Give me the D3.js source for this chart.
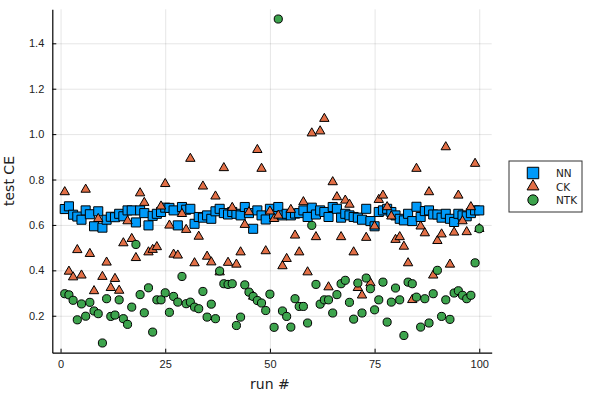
<!DOCTYPE html>
<html>
<head>
<meta charset="utf-8">
<script src="https://cdn.jsdelivr.net/npm/d3@7"></script>
<style>
  body { margin: 0; background: #fff; }
  svg { font-family: "DejaVu Sans", sans-serif; }
</style>
</head>
<body>
<div id="chart"></div>
<script>
// datos (run 1..100)
const runs = d3.range(1, 101);
const nnValues = [
  0.670, 0.682, 0.645, 0.637, 0.623, 0.664, 0.647, 0.594, 0.660, 0.588,
  0.623, 0.636, 0.634, 0.649, 0.638, 0.664, 0.664, 0.611, 0.664, 0.652,
  0.598, 0.640, 0.649, 0.657, 0.676, 0.675, 0.664, 0.598, 0.679, 0.667,
  0.671, 0.605, 0.635, 0.632, 0.642, 0.627, 0.660, 0.671, 0.652, 0.646,
  0.657, 0.649, 0.642, 0.679, 0.652, 0.583, 0.664, 0.642, 0.624, 0.671,
  0.646, 0.679, 0.642, 0.649, 0.642, 0.650, 0.652, 0.664, 0.635, 0.676,
  0.646, 0.664, 0.657, 0.635, 0.679, 0.671, 0.632, 0.649, 0.642, 0.635,
  0.632, 0.623, 0.671, 0.617, 0.594, 0.657, 0.664, 0.671, 0.657, 0.642,
  0.627, 0.620, 0.649, 0.617, 0.680, 0.635, 0.661, 0.664, 0.646, 0.646,
  0.632, 0.649, 0.627, 0.613, 0.649, 0.642, 0.638, 0.652, 0.664, 0.664
];
const ckValues = [
  0.745, 0.395, 0.370, 0.490, 0.378, 0.756, 0.473, 0.309, 0.627, 0.372,
  0.435, 0.323, 0.363, 0.311, 0.520, 0.617, 0.539, 0.455, 0.740, 0.698,
  0.480, 0.491, 0.503, 0.682, 0.781, 0.598, 0.470, 0.466, 0.649, 0.579,
  0.892, 0.432, 0.549, 0.770, 0.461, 0.436, 0.726, 0.392, 0.851, 0.434,
  0.676, 0.426, 0.480, 0.601, 0.657, 0.285, 0.931, 0.848, 0.485, 0.660,
  0.627, 0.642, 0.419, 0.451, 0.667, 0.554, 0.480, 0.701, 0.392, 1.004,
  0.547, 1.013, 1.068, 0.326, 0.789, 0.723, 0.547, 0.708, 0.690, 0.480,
  0.323, 0.290, 0.544, 0.344, 0.594, 0.711, 0.730, 0.679, 0.638, 0.535,
  0.547, 0.505, 0.432, 0.270, 0.848, 0.594, 0.564, 0.745, 0.378, 0.530,
  0.559, 0.943, 0.426, 0.567, 0.730, 0.617, 0.569, 0.679, 0.870, 0.583
];
const ntkValues = [
  0.297, 0.292, 0.268, 0.182, 0.252, 0.198, 0.259, 0.221, 0.209, 0.080,
  0.275, 0.197, 0.203, 0.270, 0.187, 0.162, 0.238, 0.514, 0.293, 0.213,
  0.323, 0.128, 0.270, 0.270, 0.301, 0.215, 0.285, 0.260, 0.373, 0.253,
  0.260, 0.238, 0.231, 0.307, 0.194, 0.251, 0.187, 0.397, 0.341, 0.338,
  0.341, 0.157, 0.194, 0.336, 0.304, 0.285, 0.267, 0.256, 0.223, 0.295,
  0.149, 1.507, 0.221, 0.197, 0.150, 0.275, 0.241, 0.241, 0.168, 0.598,
  0.338, 0.251, 0.270, 0.270, 0.212, 0.293, 0.341, 0.356, 0.259, 0.185,
  0.344, 0.212, 0.366, 0.319, 0.226, 0.270, 0.348, 0.172, 0.260, 0.322,
  0.270, 0.113, 0.348, 0.341, 0.282, 0.150, 0.275, 0.168, 0.297, 0.400,
  0.197, 0.270, 0.184, 0.300, 0.310, 0.290, 0.275, 0.290, 0.433, 0.583
];
const seriesNames = ["NN", "CK", "NTK"];
const xTicks = [0, 25, 50, 75, 100];
const yTicks = [0.2, 0.4, 0.6, 0.8, 1.0, 1.2, 1.4];

const series = [
  { name: seriesNames[0], values: nnValues, symbol: d3.symbolSquare, size: 82, color: "#009af9" },
  { name: seriesNames[1], values: ckValues, symbol: d3.symbolTriangle, size: 38, color: "#e26f46" },
  { name: seriesNames[2], values: ntkValues, symbol: d3.symbolCircle, size: 52, color: "#3da44d" }
];

// dimensiones
const totalWidth = 593, totalHeight = 393;
const margin = { top: 9.3, right: 101.3, bottom: 40.3, left: 52.3 };
const width = totalWidth - margin.left - margin.right;
const height = totalHeight - margin.top - margin.bottom;

const svg = d3.select("#chart").append("svg")
  .attr("width", totalWidth)
  .attr("height", totalHeight);

const g = svg.append("g")
  .attr("transform", `translate(${margin.left},${margin.top})`);

// escalas (margen de 3% como en Plots.jl)
const allY = nnValues.concat(ckValues, ntkValues);
const yMin = d3.min(allY), yMax = d3.max(allY);
const yPad = (yMax - yMin) * 0.03;
const x = d3.scaleLinear().domain([1 - 99 * 0.03, 100 + 99 * 0.03]).range([0, width]);
const y = d3.scaleLinear().domain([yMin - yPad, yMax + yPad]).range([height, 0]);

// rejilla
g.append("g")
  .attr("class", "grid")
  .attr("transform", `translate(0,${height})`)
  .call(d3.axisBottom(x).tickValues(xTicks).tickSize(-height).tickFormat(""))
  .call(s => s.select(".domain").remove());
g.append("g")
  .attr("class", "grid")
  .call(d3.axisLeft(y).tickValues(yTicks).tickSize(-width).tickFormat(""))
  .call(s => s.select(".domain").remove());
g.selectAll(".grid line").attr("stroke", "#000").attr("stroke-opacity", 0.1).attr("stroke-width", 1);

// ejes
const xAxis = g.append("g")
  .attr("transform", `translate(0,${height})`)
  .call(d3.axisBottom(x).tickValues(xTicks).tickSize(-4).tickSizeOuter(0).tickPadding(8).tickFormat(d3.format("d")));
const yAxis = g.append("g")
  .call(d3.axisLeft(y).tickValues(yTicks).tickSize(-4).tickSizeOuter(0).tickPadding(8).tickFormat(d3.format(".1f")));

[xAxis, yAxis].forEach(a => {
  a.select(".domain").attr("stroke", "#000").attr("stroke-width", 1.2);
  a.selectAll(".tick line").attr("stroke", "#000");
  a.selectAll(".tick text").attr("fill", "#222").style("font-size", "11px");
});

// puntos
series.forEach(s => {
  g.append("g").selectAll("path")
    .data(s.values.map((v, i) => ({ run: runs[i], v })))
    .enter()
    .append("path")
    .attr("d", d3.symbol().type(s.symbol).size(s.size))
    .attr("transform", d => `translate(${x(d.run)},${y(d.v)})`)
    .attr("fill", s.color)
    .attr("stroke", "#000")
    .attr("stroke-width", 1);
});

// titulos de ejes
svg.append("text")
  .attr("x", margin.left + x(50))
  .attr("y", 389)
  .attr("text-anchor", "middle")
  .style("font-size", "14px")
  .attr("fill", "#222")
  .text("run #");

svg.append("text")
  .attr("transform", `translate(14,${margin.top + height / 2}) rotate(-90)`)
  .attr("text-anchor", "middle")
  .style("font-size", "14px")
  .attr("fill", "#222")
  .text("test CE");

// leyenda
const legend = svg.append("g").attr("transform", "translate(509,161)");
legend.append("rect")
  .attr("width", 73).attr("height", 51)
  .attr("fill", "#fff")
  .attr("stroke", "#333")
  .attr("stroke-width", 1);

series.forEach((s, i) => {
  const row = legend.append("g").attr("transform", `translate(24,${12 + i * 13.5})`);
  row.append("path")
    .attr("d", d3.symbol().type(s.symbol).size(s.size * 1.6))
    .attr("fill", s.color)
    .attr("stroke", "#000")
    .attr("stroke-width", 1);
  row.append("text")
    .attr("x", 23)
    .attr("y", 4)
    .style("font-size", "10.5px")
    .attr("fill", "#222")
    .text(s.name);
});
</script>
</body>
</html>
